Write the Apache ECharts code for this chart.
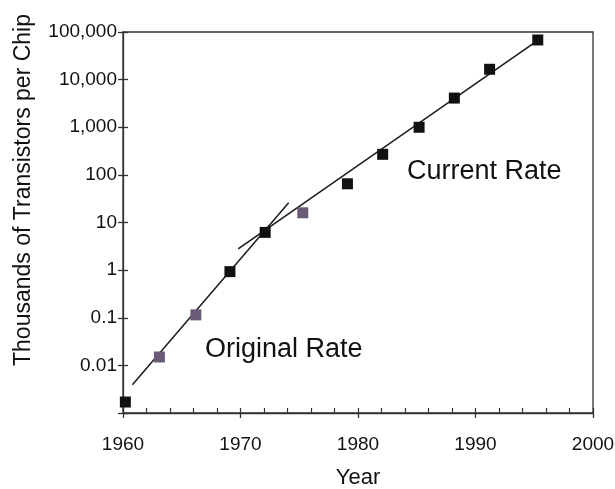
<!DOCTYPE html>
<html>
<head>
<meta charset="utf-8">
<script src="https://cdn.jsdelivr.net/npm/echarts@6/dist/echarts.min.js"></script>
<style>
  html, body { margin: 0; padding: 0; background: #fff; }
  #chart { width: 615px; height: 489px; }
</style>
</head>
<body>
<div id="chart"></div>
<script>
// Transistor counts (thousands per chip) by year
const blackYears = [1960.2, 1969.1, 1972.1, 1979.1, 1982.1, 1985.2, 1988.2, 1991.2, 1995.3];
const blackValues = [0.0017, 0.93, 6.2, 65, 270, 1000, 4100, 16500, 68000];
const greyYears = [1963.1, 1966.2, 1975.3];
const greyValues = [0.015, 0.115, 16];

// Fitted growth-rate lines (end points)
const originalRateYears = [1960.8, 1974.1];
const originalRateValues = [0.0039, 26];
const currentRateYears = [1969.8, 1995.7];
const currentRateValues = [2.8, 78000];

// Axis labels
const yearTicks = [1960, 1970, 1980, 1990, 2000];
const yTickLabels = ['', '0.01', '0.1', '1', '10', '100', '1,000', '10,000', '100,000'];

const FONT = "'Liberation Sans', Arial, Helvetica, sans-serif";
const AXIS = '#333';

const pairs = (xs, ys) => xs.map((x, i) => [x, ys[i]]);

const chart = echarts.init(document.getElementById('chart'), null, { renderer: 'canvas' });

chart.setOption({
  backgroundColor: '#fff',
  animation: false,
  grid: {
    left: 123, right: 22, top: 32, bottom: 76,
    containLabel: false, outerBoundsMode: 'none',
    show: true, borderColor: AXIS, borderWidth: 1.3, backgroundColor: 'transparent'
  },
  xAxis: [
    {
      type: 'value', min: yearTicks[0], max: yearTicks[yearTicks.length - 1], interval: 10,
      position: 'bottom',
      name: 'Year', nameLocation: 'middle', nameGap: 54,
      nameTextStyle: { fontFamily: FONT, fontSize: 22, color: '#111' },
      axisLine: { show: true, lineStyle: { color: AXIS, width: 1.3 } },
      axisTick: { show: true, inside: false, length: 5, lineStyle: { color: AXIS, width: 1.3 } },
      axisLabel: {
        fontFamily: FONT, fontSize: 19, color: '#111', margin: 22,
        formatter: v => String(Math.round(v))
      },
      splitLine: { show: false }
    },
    {
      type: 'value', min: 1960, max: 2000, interval: 2,
      position: 'bottom',
      axisLine: { show: false },
      axisTick: { show: true, inside: true, length: 5, lineStyle: { color: AXIS, width: 1.2 } },
      axisLabel: { show: false },
      splitLine: { show: false }
    }
  ],
  yAxis: [
    {
      type: 'log', logBase: 10, min: 0.001, max: 100000, interval: 1,
      position: 'left',
      axisLine: { show: true, lineStyle: { color: AXIS, width: 1.3 } },
      axisTick: { show: true, inside: false, length: 5, lineStyle: { color: AXIS, width: 1.3 } },
      axisLabel: {
        fontFamily: FONT, fontSize: 19, color: '#111', margin: 6,
        formatter: v => {
          const k = Math.round(Math.log10(v)) + 3;
          return yTickLabels[k] !== undefined ? yTickLabels[k] : '';
        }
      },
      splitLine: { show: false }
    },
    {
      type: 'log', logBase: 10, min: 0.001, max: 100000, interval: 1,
      position: 'left',
      axisLine: { show: false },
      axisTick: { show: true, inside: true, length: 5, lineStyle: { color: AXIS, width: 1.3 } },
      axisLabel: { show: false },
      splitLine: { show: false }
    }
  ],
  series: [
    {
      type: 'line', name: 'Original Rate', xAxisIndex: 0, yAxisIndex: 0,
      data: pairs(originalRateYears, originalRateValues),
      symbol: 'none', lineStyle: { color: '#1a1a1a', width: 1.5 }, z: 3
    },
    {
      type: 'line', name: 'Current Rate', xAxisIndex: 0, yAxisIndex: 0,
      data: pairs(currentRateYears, currentRateValues),
      symbol: 'none', lineStyle: { color: '#1a1a1a', width: 1.5 }, z: 3
    },
    {
      type: 'scatter', xAxisIndex: 0, yAxisIndex: 0,
      data: pairs(blackYears, blackValues),
      symbol: 'rect', symbolSize: 11,
      itemStyle: { color: '#111', opacity: 1 }, z: 4
    },
    {
      type: 'scatter', xAxisIndex: 0, yAxisIndex: 0,
      data: pairs(greyYears, greyValues),
      symbol: 'rect', symbolSize: 11,
      itemStyle: { color: '#6a5b77', opacity: 1 }, z: 4
    }
  ],
  graphic: [
    {
      type: 'text', x: 24, y: 190, rotation: Math.PI / 2,
      style: {
        text: 'Thousands of Transistors per Chip', fontFamily: FONT, fontSize: 23,
        fill: '#111', align: 'center', verticalAlign: 'middle'
      }
    },
    {
      type: 'text', x: 205, y: 350,
      style: {
        text: 'Original Rate', fontFamily: FONT, fontSize: 27,
        fill: '#111', align: 'left', verticalAlign: 'middle'
      }
    },
    {
      type: 'text', x: 407, y: 172,
      style: {
        text: 'Current Rate', fontFamily: FONT, fontSize: 27,
        fill: '#111', align: 'left', verticalAlign: 'middle'
      }
    }
  ]
});
</script>
</body>
</html>
